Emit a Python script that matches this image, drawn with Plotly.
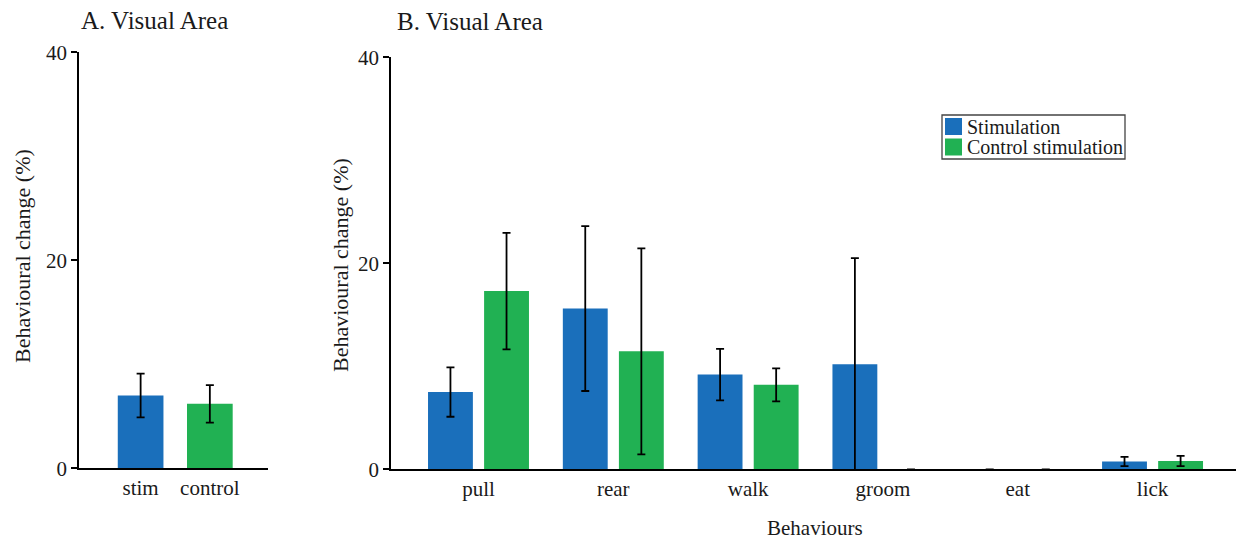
import plotly.graph_objects as go

# ---- data ----
a_categories = ["stim", "control"]
a_values = [7.0, 6.2]
a_errors = [2.1, 1.8]

b_categories = ["pull", "rear", "walk", "groom", "eat", "lick"]
stim_values = [7.5, 15.6, 9.2, 10.2, 0.0, 0.75]
stim_errors = [2.4, 8.0, 2.5, 10.3, 0.0, 0.45]
control_values = [17.3, 11.45, 8.2, 0.0, 0.0, 0.8]
control_errors = [5.65, 10.0, 1.6, 0.0, 0.0, 0.5]

series_names = ["Stimulation", "Control stimulation"]

BLUE = "#1a6fbb"
GREEN = "#21b153"
FONT = "Liberation Serif, Times New Roman, serif"
TXT = "#1a1a1a"

fig = go.Figure()

err_style = dict(type="data", visible=True, color="black", thickness=1.8, width=4)

fig.add_trace(go.Bar(
    x=a_categories, y=a_values,
    error_y=dict(array=a_errors, **err_style),
    marker=dict(color=[BLUE, GREEN], line=dict(width=0)),
    width=0.66, showlegend=False,
    xaxis="x", yaxis="y",
))

fig.add_trace(go.Bar(
    x=b_categories, y=stim_values, name=series_names[0],
    error_y=dict(array=stim_errors, **err_style),
    marker=dict(color=BLUE, line=dict(width=0)),
    showlegend=False,
    xaxis="x2", yaxis="y2",
))
fig.add_trace(go.Bar(
    x=b_categories, y=control_values, name=series_names[1],
    error_y=dict(array=control_errors, **err_style),
    marker=dict(color=GREEN, line=dict(width=0)),
    showlegend=False,
    xaxis="x2", yaxis="y2",
))

axis_common = dict(showgrid=False, zeroline=False, showline=True,
                   linecolor="black", linewidth=1.5, automargin=False,
                   tickfont=dict(family=FONT, size=21, color=TXT))

W, H = 1238, 543

fig.update_layout(
    template="none",
    width=W, height=H,
    margin=dict(l=0, r=0, t=0, b=0, pad=0, autoexpand=False),
    paper_bgcolor="white", plot_bgcolor="white",
    barmode="group", bargap=0.168, bargroupgap=0.2,
    font=dict(family=FONT, color=TXT),
    showlegend=False,
    xaxis=dict(domain=[79 / W, 268 / W], range=[-0.89, 1.84], ticks="",
               anchor="y", **axis_common),
    yaxis=dict(domain=[(H - 468.3) / H, (H - 52.3) / H], range=[0, 40],
               tickvals=[0, 20, 40], ticks="outside", ticklen=6, tickwidth=1.5,
               tickcolor="black", anchor="x", **axis_common),
    xaxis2=dict(domain=[391 / W, 1236 / W], range=[-0.649, 5.619], ticks="",
                anchor="y2", **axis_common),
    yaxis2=dict(domain=[(H - 469.3) / H, (H - 57.3) / H], range=[0, 40],
                tickvals=[0, 20, 40], ticks="outside", ticklen=6, tickwidth=1.5,
                tickcolor="black", anchor="x2", **axis_common),
)

def px_x(v):
    return v / W

def px_y(v):
    return (H - v) / H

ann = []
ann.append(dict(text="A. Visual Area", x=px_x(79), y=px_y(20), xref="paper", yref="paper",
                xanchor="left", yanchor="middle", showarrow=False,
                font=dict(family=FONT, size=25, color=TXT)))
ann.append(dict(text="B. Visual Area", x=px_x(395), y=px_y(21), xref="paper", yref="paper",
                xanchor="left", yanchor="middle", showarrow=False,
                font=dict(family=FONT, size=25, color=TXT)))
ann.append(dict(text="Behavioural change (%)", x=px_x(22), y=px_y(256), xref="paper", yref="paper",
                xanchor="center", yanchor="middle", textangle=-90, showarrow=False,
                font=dict(family=FONT, size=22, color=TXT)))
ann.append(dict(text="Behavioural change (%)", x=px_x(340), y=px_y(265), xref="paper", yref="paper",
                xanchor="center", yanchor="middle", textangle=-90, showarrow=False,
                font=dict(family=FONT, size=22, color=TXT)))
ann.append(dict(text="Behaviours", x=px_x(815), y=px_y(528), xref="paper", yref="paper",
                xanchor="center", yanchor="middle", showarrow=False,
                font=dict(family=FONT, size=21, color=TXT)))

# legend (compact box like the original)
shapes = [dict(type="rect", xref="paper", yref="paper",
               x0=px_x(942), x1=px_x(1125), y0=px_y(159), y1=px_y(115),
               line=dict(color="#444", width=1.3), fillcolor="white", layer="above")]
for i, (nm, col) in enumerate(zip(series_names, [BLUE, GREEN])):
    top = 118 + i * 20.5
    shapes.append(dict(type="rect", xref="paper", yref="paper",
                       x0=px_x(945), x1=px_x(962), y0=px_y(top + 17), y1=px_y(top),
                       line=dict(width=0), fillcolor=col, layer="above"))
    ann.append(dict(text=nm, x=px_x(965), y=px_y(top + 8.5), xref="paper", yref="paper",
                    xanchor="left", yanchor="middle", showarrow=False,
                    font=dict(family=FONT, size=20, color=TXT)))

fig.update_layout(annotations=ann, shapes=shapes)

fig.write_html("out.html")
